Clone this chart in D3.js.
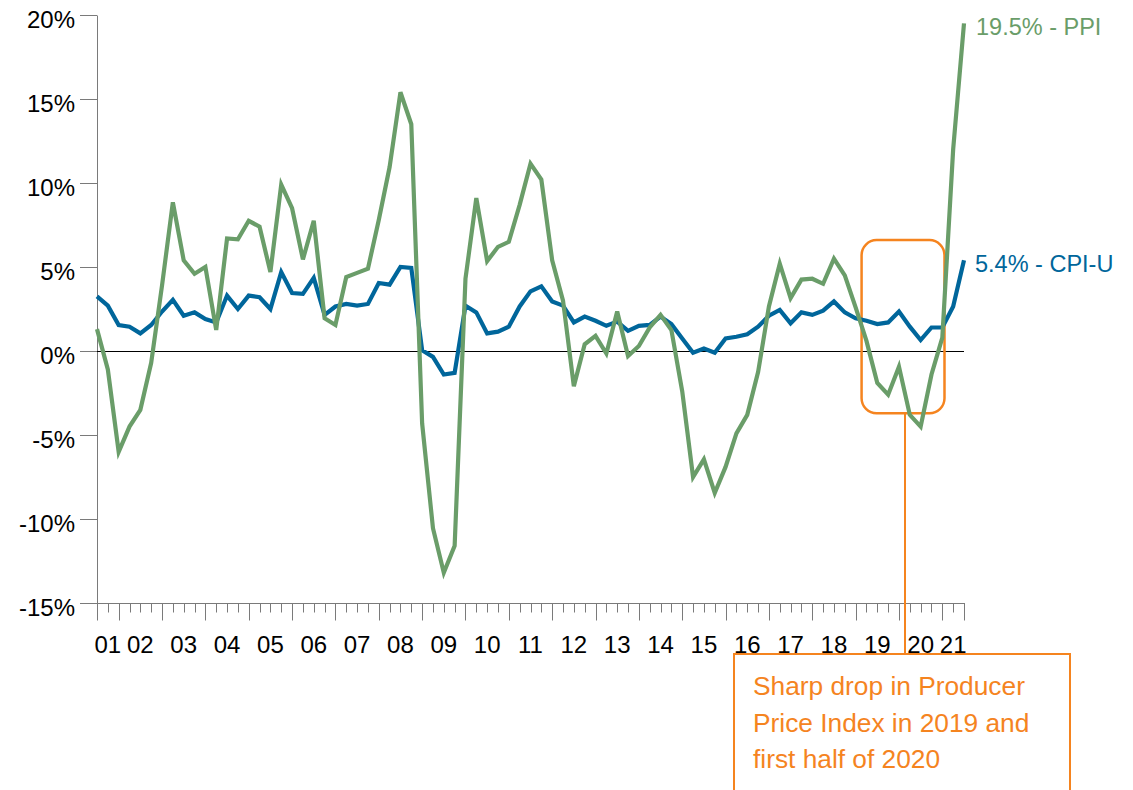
<!DOCTYPE html>
<html>
<head>
<meta charset="utf-8">
<script src="https://cdn.jsdelivr.net/npm/d3@7"></script>
<style>
  html, body { margin: 0; padding: 0; background: #fff; }
  svg { display: block; font-family: "Liberation Sans", Arial, sans-serif; }
</style>
</head>
<body>
<svg id="chart" width="1133" height="790"></svg>
<script>
// Quarter-end months, June 2001 .. June 2021
const quarters = [
  "2001-06","2001-09","2001-12",
  "2002-03","2002-06","2002-09","2002-12",
  "2003-03","2003-06","2003-09","2003-12",
  "2004-03","2004-06","2004-09","2004-12",
  "2005-03","2005-06","2005-09","2005-12",
  "2006-03","2006-06","2006-09","2006-12",
  "2007-03","2007-06","2007-09","2007-12",
  "2008-03","2008-06","2008-09","2008-12",
  "2009-03","2009-06","2009-09","2009-12",
  "2010-03","2010-06","2010-09","2010-12",
  "2011-03","2011-06","2011-09","2011-12",
  "2012-03","2012-06","2012-09","2012-12",
  "2013-03","2013-06","2013-09","2013-12",
  "2014-03","2014-06","2014-09","2014-12",
  "2015-03","2015-06","2015-09","2015-12",
  "2016-03","2016-06","2016-09","2016-12",
  "2017-03","2017-06","2017-09","2017-12",
  "2018-03","2018-06","2018-09","2018-12",
  "2019-03","2019-06","2019-09","2019-12",
  "2020-03","2020-06","2020-09","2020-12",
  "2021-03","2021-06"
];

// Producer Price Index, YoY %
const ppi = [
  1.3, -1.1, -6.0,
  -4.5, -3.5, -0.7, 3.9,
  8.85, 5.4, 4.6, 5.0,
  1.25, 6.7, 6.65, 7.75,
  7.4, 4.7, 9.9, 8.5,
  5.45, 7.75, 1.95, 1.55,
  4.4, 4.65, 4.9, 7.8,
  10.95, 15.4, 13.5, -4.3,
  -10.55, -13.2, -11.6, 4.3,
  9.1, 5.35, 6.2, 6.5,
  8.7, 11.15, 10.2, 5.4,
  3.0, -2.1, 0.4, 0.9,
  -0.15, 2.35, -0.3, 0.3,
  1.4, 2.15, 1.25, -2.4,
  -7.5, -6.45, -8.45, -6.9,
  -4.9, -3.8, -1.25, 2.65,
  5.2, 3.15, 4.25, 4.3,
  4.0, 5.5, 4.5, 2.6,
  0.6, -1.9, -2.6, -0.93,
  -3.8, -4.5, -1.4, 0.8,
  12.0, 19.5
];

// CPI-U, YoY %
const cpi = [
  3.25, 2.7, 1.55,
  1.45, 1.05, 1.55, 2.35,
  3.05, 2.1, 2.3, 1.9,
  1.7, 3.3, 2.5, 3.3,
  3.2, 2.5, 4.7, 3.45,
  3.4, 4.35, 2.15, 2.65,
  2.8, 2.7, 2.8, 4.05,
  3.95, 5.0, 4.95, 0.05,
  -0.35, -1.4, -1.3, 2.7,
  2.3, 1.05, 1.15, 1.45,
  2.65, 3.55, 3.85, 2.95,
  2.7, 1.7, 2.05, 1.8,
  1.5, 1.75, 1.2, 1.5,
  1.55, 2.05, 1.6, 0.75,
  -0.1, 0.15, -0.1, 0.75,
  0.85, 1.0, 1.45, 2.1,
  2.45, 1.65, 2.3, 2.15,
  2.4, 2.95, 2.3, 1.95,
  1.8, 1.6, 1.7, 2.35,
  1.45, 0.65, 1.4, 1.4,
  2.65, 5.4
];

const yTicks = [-15, -10, -5, 0, 5, 10, 15, 20];
const yearLabels = ["01","02","03","04","05","06","07","08","09","10",
                    "11","12","13","14","15","16","17","18","19","20","21"];
const yearKeys = ["2001","2002","2003","2004","2005","2006","2007","2008","2009","2010",
                  "2011","2012","2013","2014","2015","2016","2017","2018","2019","2020","2021"];

const seriesNames = ["PPI", "CPI-U"];
const annotationLines = ["Sharp drop in Producer", "Price Index in 2019 and", "first half of 2020"];
const highlightRange = { from: "2018-12", to: "2020-12", top: 6.6, bottom: -3.7 };

const GREEN = "#6a9d69", BLUE = "#00669b", ORANGE = "#f5841f", AXIS = "#7a7a7a";

const svg = d3.select("#chart");
const x = d3.scalePoint().domain(quarters).range([97, 964]);
const y = d3.scaleLinear().domain([-15, 20]).range([603, 15]);
const step = x.step();

// Y axis
const yAxis = d3.axisLeft(y).tickValues(yTicks).tickSize(17).tickSizeOuter(0)
  .tickPadding(5).tickFormat(d => d + "%");
const gy = svg.append("g").attr("transform", "translate(97,0)").call(yAxis);
gy.select(".domain").attr("stroke", AXIS);
gy.selectAll(".tick line").attr("stroke", AXIS);
gy.selectAll(".tick text").attr("font-size", 24).attr("fill", "#000")
  .attr("font-family", "'Liberation Sans', Arial, sans-serif").attr("dy", "0.5em");

// X axis line
const axY = Math.round(y(-15)) + 0.5;
svg.append("line").attr("x1", 80).attr("x2", x(quarters[quarters.length - 1]) + 1)
  .attr("y1", axY).attr("y2", axY).attr("stroke", AXIS);

// Quarter ticks: long at year-ends (Dec) and at both ends of the axis
svg.append("g").selectAll("line").data(quarters).join("line")
  .attr("x1", d => Math.round(x(d)) + 0.5).attr("x2", d => Math.round(x(d)) + 0.5)
  .attr("y1", axY)
  .attr("y2", (d, i) => (d.endsWith("-12") || i === 0 || i === quarters.length - 1) ? axY + 17 : axY + 9)
  .attr("stroke", AXIS);

// Year labels centred on their span of the axis
const x0 = x(quarters[0]), x1 = x(quarters[quarters.length - 1]);
svg.append("g").selectAll("text").data(yearKeys).join("text")
  .attr("x", (k) => {
    const start = Math.max(x0, x(k === "2001" ? quarters[0] : (String(+k - 1) + "-12")));
    const endKey = k + "-12";
    const end = quarters.includes(endKey) ? x(endKey) : x1;
    return (start + end) / 2;
  })
  .attr("y", y(-15) + 50)
  .attr("text-anchor", "middle").attr("font-size", 24).attr("fill", "#000")
  .text((k, i) => yearLabels[i]);

// Zero line
const zY = Math.round(y(0)) + 0.5;
svg.append("line").attr("x1", x0).attr("x2", x1).attr("y1", zY).attr("y2", zY)
  .attr("stroke", "#000").attr("stroke-width", 1);

// Highlight box + connector + annotation
const hx0 = x(highlightRange.from) + step * 0.55;
const hx1 = x(highlightRange.to) + step * 0.2;
const hy0 = y(highlightRange.top), hy1 = y(highlightRange.bottom);
svg.append("rect").attr("x", hx0).attr("y", hy0).attr("width", hx1 - hx0).attr("height", hy1 - hy0)
  .attr("rx", 15).attr("ry", 15).attr("fill", "none").attr("stroke", ORANGE).attr("stroke-width", 2.5);
const cx = Math.round(x("2019-12") + step * 0.55);
svg.append("line").attr("x1", cx).attr("x2", cx).attr("y1", hy1).attr("y2", 654)
  .attr("stroke", ORANGE).attr("stroke-width", 2);
svg.append("rect").attr("x", 734).attr("y", 654).attr("width", 336).attr("height", 160)
  .attr("fill", "#fff").attr("stroke", ORANGE).attr("stroke-width", 2);
svg.append("g").selectAll("text").data(annotationLines).join("text")
  .attr("x", 753).attr("y", (d, i) => 695 + i * 36.6)
  .attr("font-size", 26.3).attr("fill", ORANGE).text(d => d);

// Lines
const line = d3.line().x((d, i) => x(quarters[i])).y(d => y(d));
svg.append("path").datum(cpi).attr("d", line).attr("fill", "none")
  .attr("stroke", BLUE).attr("stroke-width", 4.2).attr("stroke-linejoin", "miter");
svg.append("path").datum(ppi).attr("d", line).attr("fill", "none")
  .attr("stroke", GREEN).attr("stroke-width", 4.2).attr("stroke-linejoin", "miter");

// End labels
const last = quarters.length - 1;
svg.append("text").attr("x", x1 + 12).attr("y", y(ppi[last]) + 11.5)
  .attr("font-size", 23.5).attr("fill", GREEN).text(ppi[last].toFixed(1) + "% - " + seriesNames[0]);
svg.append("text").attr("x", x1 + 11).attr("y", y(cpi[last]) + 11.5)
  .attr("font-size", 23.5).attr("fill", BLUE).text(cpi[last].toFixed(1) + "% - " + seriesNames[1]);
</script>
</body>
</html>
